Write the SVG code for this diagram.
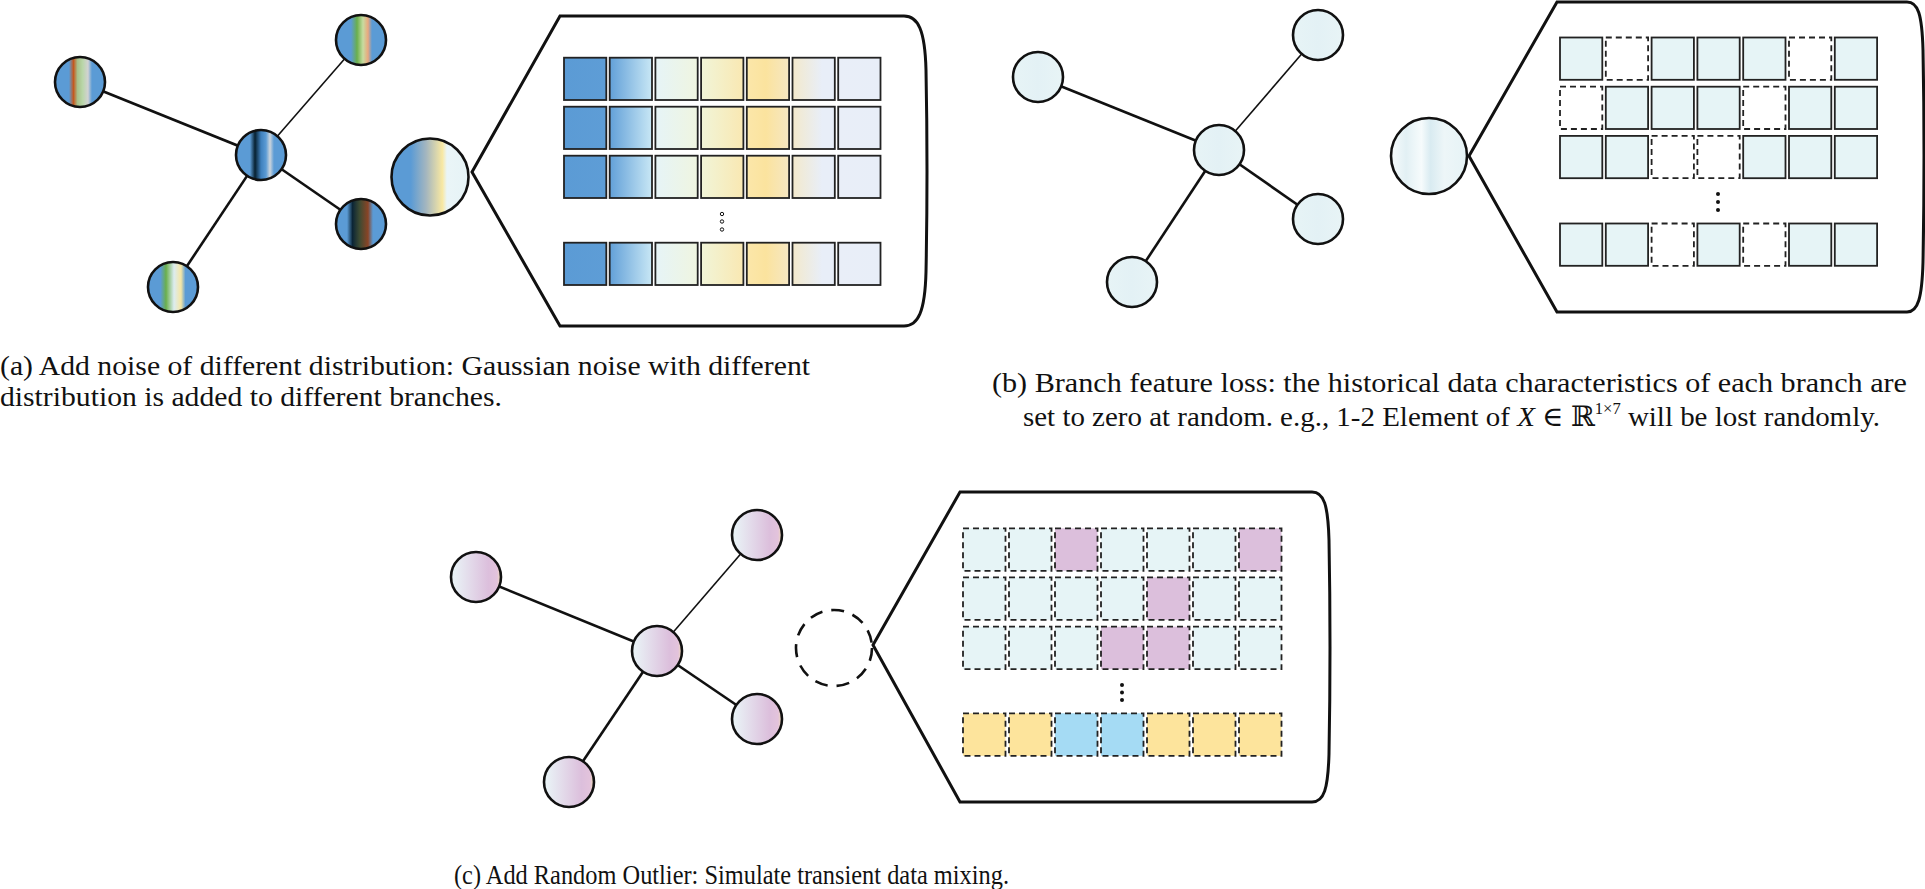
<svg xmlns="http://www.w3.org/2000/svg" width="1925" height="889" viewBox="0 0 1925 889">
<style>
.node{stroke:#111;stroke-width:2.6}
.edge{stroke:#111;stroke-width:2.6;fill:none}
.edge.thin{stroke-width:1.6}
.callout{fill:#fff;stroke:#111;stroke-width:3;stroke-linejoin:miter}
.cell{stroke:#222;stroke-width:1.8}
.dcell{stroke:#222;stroke-width:1.8;stroke-dasharray:6 4}
.cap{font-family:"Liberation Serif","DejaVu Serif",serif;font-size:28px;fill:#111}
</style>
<defs>
<linearGradient id="nc" x1="0" x2="1" y1="0" y2="0"><stop offset="0" stop-color="#5b9bd5"/><stop offset="0.28" stop-color="#5b9bd5"/><stop offset="0.38" stop-color="#062030"/><stop offset="0.5" stop-color="#3f80bd"/><stop offset="0.6" stop-color="#5b9bd5"/><stop offset="0.68" stop-color="#cdd5dc"/><stop offset="0.76" stop-color="#5b9bd5"/><stop offset="1" stop-color="#5b9bd5"/></linearGradient>
<linearGradient id="ntl" x1="0" x2="1"><stop offset="0" stop-color="#5b9bd5"/><stop offset="0.28" stop-color="#5b9bd5"/><stop offset="0.37" stop-color="#c4581f"/><stop offset="0.45" stop-color="#a8c08a"/><stop offset="0.55" stop-color="#b9d6a8"/><stop offset="0.66" stop-color="#d2d2d2"/><stop offset="0.74" stop-color="#5b9bd5"/><stop offset="1" stop-color="#5b9bd5"/></linearGradient>
<linearGradient id="ntr" x1="0" x2="1"><stop offset="0" stop-color="#5b9bd5"/><stop offset="0.3" stop-color="#5b9bd5"/><stop offset="0.42" stop-color="#6aaf4c"/><stop offset="0.54" stop-color="#c8dca0"/><stop offset="0.64" stop-color="#eaa77e"/><stop offset="0.72" stop-color="#5b9bd5"/><stop offset="1" stop-color="#5b9bd5"/></linearGradient>
<linearGradient id="nrl" x1="0" x2="1"><stop offset="0" stop-color="#5b9bd5"/><stop offset="0.22" stop-color="#5b9bd5"/><stop offset="0.33" stop-color="#0b2536"/><stop offset="0.47" stop-color="#3c4a32"/><stop offset="0.64" stop-color="#8a4426"/><stop offset="0.74" stop-color="#5b9bd5"/><stop offset="1" stop-color="#5b9bd5"/></linearGradient>
<linearGradient id="nbt" x1="0" x2="1"><stop offset="0" stop-color="#5b9bd5"/><stop offset="0.25" stop-color="#5b9bd5"/><stop offset="0.36" stop-color="#6aaf4c"/><stop offset="0.52" stop-color="#dcecf0"/><stop offset="0.66" stop-color="#f5e6a4"/><stop offset="0.75" stop-color="#5b9bd5"/><stop offset="1" stop-color="#5b9bd5"/></linearGradient>
<linearGradient id="nbig" x1="0" x2="1"><stop offset="0" stop-color="#5b9bd5"/><stop offset="0.25" stop-color="#5b9bd5"/><stop offset="0.45" stop-color="#a4b6bf"/><stop offset="0.66" stop-color="#f8e8a2"/><stop offset="0.72" stop-color="#eaf5f7"/><stop offset="1" stop-color="#e6f3f6"/></linearGradient>
<linearGradient id="nb" x1="0" x2="1"><stop offset="0" stop-color="#e7f4f6"/><stop offset="0.5" stop-color="#e3f1f5"/><stop offset="1" stop-color="#e8f4f6"/></linearGradient>
<linearGradient id="nbbig" x1="0" x2="1"><stop offset="0" stop-color="#f7fbfc"/><stop offset="0.2" stop-color="#e2f0f4"/><stop offset="0.4" stop-color="#f6fbfc"/><stop offset="0.52" stop-color="#d9ebf1"/><stop offset="0.7" stop-color="#edf6f8"/><stop offset="1" stop-color="#e6f3f6"/></linearGradient>
<linearGradient id="npc" x1="0" x2="1"><stop offset="0" stop-color="#eaf6f8"/><stop offset="0.75" stop-color="#dcbfdc"/><stop offset="0.92" stop-color="#e3c3dc"/><stop offset="1" stop-color="#f2ddb5"/></linearGradient>
<linearGradient id="ga1"><stop offset="0" stop-color="#5b9bd5"/><stop offset="1" stop-color="#5e9dd6"/></linearGradient>
<linearGradient id="ga2"><stop offset="0" stop-color="#62a0d8"/><stop offset="1" stop-color="#c8e7f5"/></linearGradient>
<linearGradient id="ga3"><stop offset="0" stop-color="#e6f4f7"/><stop offset="1" stop-color="#eff5e0"/></linearGradient>
<linearGradient id="ga4"><stop offset="0" stop-color="#f1f5d8"/><stop offset="1" stop-color="#f9e8b2"/></linearGradient>
<linearGradient id="ga5"><stop offset="0" stop-color="#fbe7aa"/><stop offset="0.45" stop-color="#fbe39e"/><stop offset="1" stop-color="#f6e7c2"/></linearGradient>
<linearGradient id="ga6"><stop offset="0" stop-color="#f3e9cc"/><stop offset="0.7" stop-color="#e8eef8"/><stop offset="1" stop-color="#e8eef8"/></linearGradient>
<linearGradient id="ga7"><stop offset="0" stop-color="#e9eef8"/><stop offset="1" stop-color="#e8eef8"/></linearGradient>
</defs>
<rect width="1925" height="889" fill="#fff"/>

<!-- connectors -->
<g id="connectors">
<line class="edge" x1="80" y1="82" x2="261" y2="155"/>
<line class="edge thin" x1="361" y1="40" x2="261" y2="155"/>
<line class="edge" x1="361" y1="224" x2="261" y2="155"/>
<line class="edge" x1="173" y1="287" x2="261" y2="155"/>
<line class="edge" x1="1038" y1="77" x2="1219" y2="150"/>
<line class="edge thin" x1="1318" y1="35" x2="1219" y2="150"/>
<line class="edge" x1="1318" y1="219" x2="1219" y2="150"/>
<line class="edge" x1="1132" y1="282" x2="1219" y2="150"/>
<line class="edge" x1="476" y1="577" x2="657" y2="651"/>
<line class="edge thin" x1="757" y1="535" x2="657" y2="651"/>
<line class="edge" x1="757" y1="719" x2="657" y2="651"/>
<line class="edge" x1="569" y1="782" x2="657" y2="651"/>
</g>

<!-- panel a -->
<g id="a-node-tl"><circle class="node" cx="80" cy="82" r="25" fill="url(#ntl)"/></g>
<g id="a-node-tr"><circle class="node" cx="361" cy="40" r="25" fill="url(#ntr)"/></g>
<g id="a-node-center"><circle class="node" cx="261" cy="155" r="25" fill="url(#nc)"/></g>
<g id="a-node-rl"><circle class="node" cx="361" cy="224" r="25" fill="url(#nrl)"/></g>
<g id="a-node-bottom"><circle class="node" cx="173" cy="287" r="25" fill="url(#nbt)"/></g>
<g id="a-node-big"><circle class="node" cx="430" cy="177" r="38.5" fill="url(#nbig)"/></g>
<g id="a-callout">
<path class="callout" d="M560,16 H904 C918,16 925,30 926,70 Q928,171 926,272 C925,312 918,326 904,326 H560 L472,172 Z"/>
<g class="cell">
<rect x="564" y="57.7" width="42.3" height="42.3" fill="url(#ga1)"/><rect x="609.7" y="57.7" width="42.3" height="42.3" fill="url(#ga2)"/><rect x="655.4" y="57.7" width="42.3" height="42.3" fill="url(#ga3)"/><rect x="701.1" y="57.7" width="42.3" height="42.3" fill="url(#ga4)"/><rect x="746.8" y="57.7" width="42.3" height="42.3" fill="url(#ga5)"/><rect x="792.5" y="57.7" width="42.3" height="42.3" fill="url(#ga6)"/><rect x="838.2" y="57.7" width="42.3" height="42.3" fill="url(#ga7)"/>
<rect x="564" y="106.7" width="42.3" height="42.3" fill="url(#ga1)"/><rect x="609.7" y="106.7" width="42.3" height="42.3" fill="url(#ga2)"/><rect x="655.4" y="106.7" width="42.3" height="42.3" fill="url(#ga3)"/><rect x="701.1" y="106.7" width="42.3" height="42.3" fill="url(#ga4)"/><rect x="746.8" y="106.7" width="42.3" height="42.3" fill="url(#ga5)"/><rect x="792.5" y="106.7" width="42.3" height="42.3" fill="url(#ga6)"/><rect x="838.2" y="106.7" width="42.3" height="42.3" fill="url(#ga7)"/>
<rect x="564" y="155.7" width="42.3" height="42.3" fill="url(#ga1)"/><rect x="609.7" y="155.7" width="42.3" height="42.3" fill="url(#ga2)"/><rect x="655.4" y="155.7" width="42.3" height="42.3" fill="url(#ga3)"/><rect x="701.1" y="155.7" width="42.3" height="42.3" fill="url(#ga4)"/><rect x="746.8" y="155.7" width="42.3" height="42.3" fill="url(#ga5)"/><rect x="792.5" y="155.7" width="42.3" height="42.3" fill="url(#ga6)"/><rect x="838.2" y="155.7" width="42.3" height="42.3" fill="url(#ga7)"/>
<rect x="564" y="242.7" width="42.3" height="42.3" fill="url(#ga1)"/><rect x="609.7" y="242.7" width="42.3" height="42.3" fill="url(#ga2)"/><rect x="655.4" y="242.7" width="42.3" height="42.3" fill="url(#ga3)"/><rect x="701.1" y="242.7" width="42.3" height="42.3" fill="url(#ga4)"/><rect x="746.8" y="242.7" width="42.3" height="42.3" fill="url(#ga5)"/><rect x="792.5" y="242.7" width="42.3" height="42.3" fill="url(#ga6)"/><rect x="838.2" y="242.7" width="42.3" height="42.3" fill="url(#ga7)"/>
</g>
<g fill="#fff" stroke="#111" stroke-width="1"><circle cx="722" cy="214" r="1.7"/><circle cx="722" cy="221.5" r="1.7"/><circle cx="722" cy="229.5" r="1.7"/></g>
</g>
<g id="a-caption">
<text class="cap" x="0" y="375" textLength="810" lengthAdjust="spacingAndGlyphs">(a) Add noise of different distribution: Gaussian noise with different</text>
<text class="cap" x="0" y="406" textLength="502" lengthAdjust="spacingAndGlyphs">distribution is added to different branches.</text>
</g>

<!-- panel b -->
<g id="b-node-tl"><circle class="node" cx="1038" cy="77" r="25" fill="url(#nb)"/></g>
<g id="b-node-tr"><circle class="node" cx="1318" cy="35" r="25" fill="url(#nb)"/></g>
<g id="b-node-center"><circle class="node" cx="1219" cy="150" r="25" fill="url(#nb)"/></g>
<g id="b-node-rl"><circle class="node" cx="1318" cy="219" r="25" fill="url(#nb)"/></g>
<g id="b-node-bottom"><circle class="node" cx="1132" cy="282" r="25" fill="url(#nb)"/></g>
<g id="b-node-big"><circle class="node" cx="1429" cy="156" r="38" fill="url(#nbbig)"/></g>
<g id="b-callout">
<path class="callout" d="M1557,2 H1907 C1918,2 1922,14 1923,50 Q1925,156 1923,262 C1922,298 1918,312 1907,312 H1557 L1469,156 Z"/>
<g fill="#e6f4f6">
<rect class="cell" x="1560" y="37.5" width="42.3" height="42.3"/><rect class="dcell" fill="#fff" x="1605.8" y="37.5" width="42.3" height="42.3"/><rect class="cell" x="1651.6" y="37.5" width="42.3" height="42.3"/><rect class="cell" x="1697.4" y="37.5" width="42.3" height="42.3"/><rect class="cell" x="1743.2" y="37.5" width="42.3" height="42.3"/><rect class="dcell" fill="#fff" x="1789" y="37.5" width="42.3" height="42.3"/><rect class="cell" x="1834.8" y="37.5" width="42.3" height="42.3"/>
<rect class="dcell" fill="#fff" x="1560" y="86.7" width="42.3" height="42.3"/><rect class="cell" x="1605.8" y="86.7" width="42.3" height="42.3"/><rect class="cell" x="1651.6" y="86.7" width="42.3" height="42.3"/><rect class="cell" x="1697.4" y="86.7" width="42.3" height="42.3"/><rect class="dcell" fill="#fff" x="1743.2" y="86.7" width="42.3" height="42.3"/><rect class="cell" x="1789" y="86.7" width="42.3" height="42.3"/><rect class="cell" x="1834.8" y="86.7" width="42.3" height="42.3"/>
<rect class="cell" x="1560" y="135.9" width="42.3" height="42.3"/><rect class="cell" x="1605.8" y="135.9" width="42.3" height="42.3"/><rect class="dcell" fill="#fff" x="1651.6" y="135.9" width="42.3" height="42.3"/><rect class="dcell" fill="#fff" x="1697.4" y="135.9" width="42.3" height="42.3"/><rect class="cell" x="1743.2" y="135.9" width="42.3" height="42.3"/><rect class="cell" x="1789" y="135.9" width="42.3" height="42.3"/><rect class="cell" x="1834.8" y="135.9" width="42.3" height="42.3"/>
<rect class="cell" x="1560" y="223.5" width="42.3" height="42.3"/><rect class="cell" x="1605.8" y="223.5" width="42.3" height="42.3"/><rect class="dcell" fill="#fff" x="1651.6" y="223.5" width="42.3" height="42.3"/><rect class="cell" x="1697.4" y="223.5" width="42.3" height="42.3"/><rect class="dcell" fill="#fff" x="1743.2" y="223.5" width="42.3" height="42.3"/><rect class="cell" x="1789" y="223.5" width="42.3" height="42.3"/><rect class="cell" x="1834.8" y="223.5" width="42.3" height="42.3"/>
</g>
<g fill="#111"><circle cx="1718" cy="194" r="2"/><circle cx="1718" cy="202" r="2"/><circle cx="1718" cy="210" r="2"/></g>
</g>
<g id="b-caption">
<text class="cap" x="992" y="392" textLength="915" lengthAdjust="spacingAndGlyphs">(b) Branch feature loss: the historical data characteristics of each branch are</text>
<text class="cap" x="1023" y="426" textLength="857" lengthAdjust="spacingAndGlyphs">set to zero at random. e.g., 1-2 Element of <tspan font-style="italic">X</tspan> ∈ <tspan font-family="DejaVu Serif,serif">ℝ</tspan><tspan font-size="16" dy="-12">1×7</tspan><tspan dy="12"> will be lost randomly.</tspan></text>
</g>

<!-- panel c -->
<g id="c-node-tl"><circle class="node" cx="476" cy="577" r="25" fill="url(#npc)"/></g>
<g id="c-node-tr"><circle class="node" cx="757" cy="535" r="25" fill="url(#npc)"/></g>
<g id="c-node-center"><circle class="node" cx="657" cy="651" r="25" fill="url(#npc)"/></g>
<g id="c-node-rl"><circle class="node" cx="757" cy="719" r="25" fill="url(#npc)"/></g>
<g id="c-node-bottom"><circle class="node" cx="569" cy="782" r="25" fill="url(#npc)"/></g>
<g id="c-node-big"><circle cx="834" cy="648" r="38" fill="#fff" stroke="#111" stroke-width="2.6" stroke-dasharray="13 9"/></g>
<g id="c-callout">
<path class="callout" d="M960,492 H1312 C1324,492 1328,505 1329,540 Q1331,647 1329,754 C1328,789 1324,802 1312,802 H960 L873,645 Z"/>
<g class="dcell">
<rect x="963" y="528.3" width="42.5" height="42.5" fill="#e6f4f6"/><rect x="1009" y="528.3" width="42.5" height="42.5" fill="#e6f4f6"/><rect x="1055" y="528.3" width="42.5" height="42.5" fill="#dcbfdc"/><rect x="1101" y="528.3" width="42.5" height="42.5" fill="#e6f4f6"/><rect x="1147" y="528.3" width="42.5" height="42.5" fill="#e6f4f6"/><rect x="1193" y="528.3" width="42.5" height="42.5" fill="#e6f4f6"/><rect x="1239" y="528.3" width="42.5" height="42.5" fill="#dcbfdc"/>
<rect x="963" y="577.3" width="42.5" height="42.5" fill="#e6f4f6"/><rect x="1009" y="577.3" width="42.5" height="42.5" fill="#e6f4f6"/><rect x="1055" y="577.3" width="42.5" height="42.5" fill="#e6f4f6"/><rect x="1101" y="577.3" width="42.5" height="42.5" fill="#e6f4f6"/><rect x="1147" y="577.3" width="42.5" height="42.5" fill="#dcbfdc"/><rect x="1193" y="577.3" width="42.5" height="42.5" fill="#e6f4f6"/><rect x="1239" y="577.3" width="42.5" height="42.5" fill="#e6f4f6"/>
<rect x="963" y="626.7" width="42.5" height="42.5" fill="#e6f4f6"/><rect x="1009" y="626.7" width="42.5" height="42.5" fill="#e6f4f6"/><rect x="1055" y="626.7" width="42.5" height="42.5" fill="#e6f4f6"/><rect x="1101" y="626.7" width="42.5" height="42.5" fill="#dcbfdc"/><rect x="1147" y="626.7" width="42.5" height="42.5" fill="#dcbfdc"/><rect x="1193" y="626.7" width="42.5" height="42.5" fill="#e6f4f6"/><rect x="1239" y="626.7" width="42.5" height="42.5" fill="#e6f4f6"/>
<rect x="963" y="713.3" width="42.5" height="42.5" fill="#fde49c"/><rect x="1009" y="713.3" width="42.5" height="42.5" fill="#fde49c"/><rect x="1055" y="713.3" width="42.5" height="42.5" fill="#a5dbf4"/><rect x="1101" y="713.3" width="42.5" height="42.5" fill="#a5dbf4"/><rect x="1147" y="713.3" width="42.5" height="42.5" fill="#fde49c"/><rect x="1193" y="713.3" width="42.5" height="42.5" fill="#fde49c"/><rect x="1239" y="713.3" width="42.5" height="42.5" fill="#fde49c"/>
</g>
<g fill="#111"><circle cx="1122" cy="685" r="2"/><circle cx="1122" cy="692.5" r="2"/><circle cx="1122" cy="700" r="2"/></g>
</g>
<g id="c-caption">
<text class="cap" x="454" y="884" textLength="555" lengthAdjust="spacingAndGlyphs">(c) Add Random Outlier: Simulate transient data mixing.</text>
</g>
</svg>
